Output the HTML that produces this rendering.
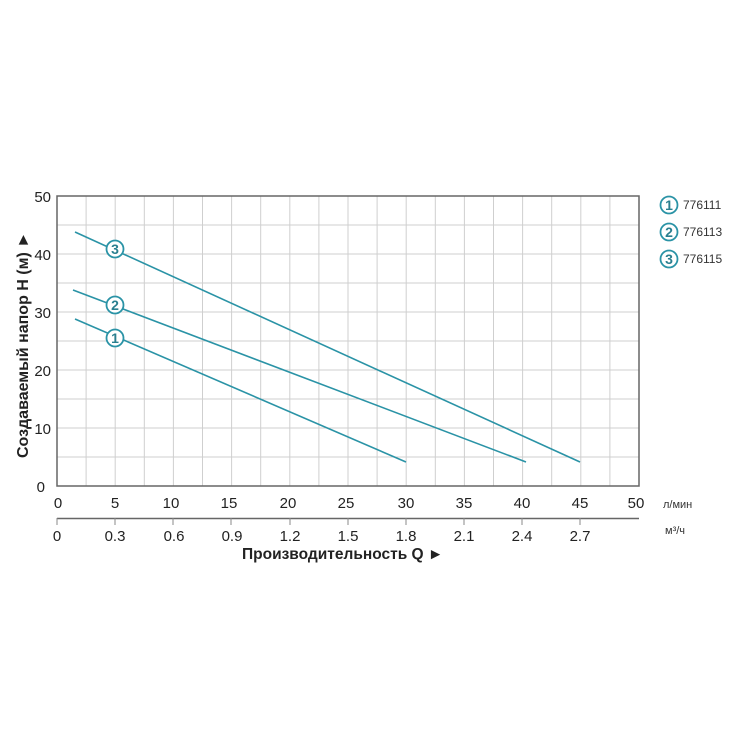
<!DOCTYPE html>
<html><head><meta charset="utf-8"><style>body{margin:0;background:#fff}</style></head><body>
<svg width="750" height="750" xmlns="http://www.w3.org/2000/svg" font-family="Liberation Sans, Arial, sans-serif">
<rect width="750" height="750" fill="#fff"/>
<g stroke="#cfcfcf" stroke-width="1">
<line x1="86.1" y1="196" x2="86.1" y2="486"/><line x1="115.2" y1="196" x2="115.2" y2="486"/><line x1="144.3" y1="196" x2="144.3" y2="486"/><line x1="173.4" y1="196" x2="173.4" y2="486"/><line x1="202.5" y1="196" x2="202.5" y2="486"/><line x1="231.6" y1="196" x2="231.6" y2="486"/><line x1="260.7" y1="196" x2="260.7" y2="486"/><line x1="289.8" y1="196" x2="289.8" y2="486"/><line x1="318.9" y1="196" x2="318.9" y2="486"/><line x1="348" y1="196" x2="348" y2="486"/><line x1="377.1" y1="196" x2="377.1" y2="486"/><line x1="406.2" y1="196" x2="406.2" y2="486"/><line x1="435.3" y1="196" x2="435.3" y2="486"/><line x1="464.4" y1="196" x2="464.4" y2="486"/><line x1="493.5" y1="196" x2="493.5" y2="486"/><line x1="522.6" y1="196" x2="522.6" y2="486"/><line x1="551.7" y1="196" x2="551.7" y2="486"/><line x1="580.8" y1="196" x2="580.8" y2="486"/><line x1="609.9" y1="196" x2="609.9" y2="486"/>
<line x1="57" y1="225" x2="639" y2="225"/><line x1="57" y1="254" x2="639" y2="254"/><line x1="57" y1="283" x2="639" y2="283"/><line x1="57" y1="312" x2="639" y2="312"/><line x1="57" y1="341" x2="639" y2="341"/><line x1="57" y1="370" x2="639" y2="370"/><line x1="57" y1="399" x2="639" y2="399"/><line x1="57" y1="428" x2="639" y2="428"/><line x1="57" y1="457" x2="639" y2="457"/>
</g>
<rect x="57" y="196" width="582" height="290" fill="none" stroke="#666" stroke-width="1.5"/>
<g stroke="#2a93a6" stroke-width="1.6" fill="none">
<line x1="75" y1="232" x2="580" y2="462"/>
<line x1="73" y1="290" x2="526" y2="462"/>
<line x1="75" y1="319" x2="406" y2="462"/>
</g>
<g stroke="#2a93a6" stroke-width="1.8" fill="#fff">
<circle cx="115" cy="249" r="8.5"/><circle cx="115" cy="305" r="8.5"/><circle cx="115" cy="338" r="8.5"/>
<circle cx="669" cy="205" r="8.5"/><circle cx="669" cy="232" r="8.5"/><circle cx="669" cy="259" r="8.5"/>
</g>
<g fill="#2a7f8f" font-size="14" font-weight="bold" text-anchor="middle">
<text x="115" y="254">3</text><text x="115" y="310">2</text><text x="115" y="343">1</text>
<text x="669" y="210">1</text><text x="669" y="237">2</text><text x="669" y="264">3</text>
</g>
<g fill="#333" font-size="12"><text x="683" y="209">776111</text><text x="683" y="236">776113</text><text x="683" y="263">776115</text></g>
<g fill="#222" font-size="15" text-anchor="end">
<text x="51" y="202">50</text><text x="51" y="260">40</text><text x="51" y="318">30</text><text x="51" y="376">20</text><text x="51" y="434">10</text><text x="45" y="492">0</text>
</g>
<g fill="#222" font-size="15" text-anchor="middle">
<text x="58" y="508">0</text><text x="115" y="508">5</text><text x="171" y="508">10</text><text x="229" y="508">15</text><text x="288" y="508">20</text><text x="346" y="508">25</text><text x="406" y="508">30</text><text x="464" y="508">35</text><text x="522" y="508">40</text><text x="580" y="508">45</text><text x="636" y="508">50</text>
</g>
<text x="663" y="508" font-size="11" fill="#333">л/мин</text>
<line x1="57" y1="518.5" x2="639" y2="518.5" stroke="#666" stroke-width="1.5"/>
<g stroke="#888" stroke-width="1"><line x1="57" y1="518" x2="57" y2="525"/><line x1="115" y1="518" x2="115" y2="525"/><line x1="173" y1="518" x2="173" y2="525"/><line x1="231" y1="518" x2="231" y2="525"/><line x1="290" y1="518" x2="290" y2="525"/><line x1="348" y1="518" x2="348" y2="525"/><line x1="406" y1="518" x2="406" y2="525"/><line x1="464" y1="518" x2="464" y2="525"/><line x1="522" y1="518" x2="522" y2="525"/><line x1="580" y1="518" x2="580" y2="525"/></g>
<g fill="#222" font-size="15" text-anchor="middle">
<text x="57" y="541">0</text><text x="115" y="541">0.3</text><text x="174" y="541">0.6</text><text x="232" y="541">0.9</text><text x="290" y="541">1.2</text><text x="348" y="541">1.5</text><text x="406" y="541">1.8</text><text x="464" y="541">2.1</text><text x="522" y="541">2.4</text><text x="580" y="541">2.7</text>
</g>
<text x="665" y="534" font-size="11" fill="#333">м³/ч</text>
<text x="242" y="559" font-size="15.5" font-weight="bold" fill="#222">Производительность Q ►</text>
<text transform="translate(28,345) rotate(-90)" text-anchor="middle" font-size="16" font-weight="bold" fill="#222">Создаваемый напор H (м) ►</text>
</svg>
</body></html>
